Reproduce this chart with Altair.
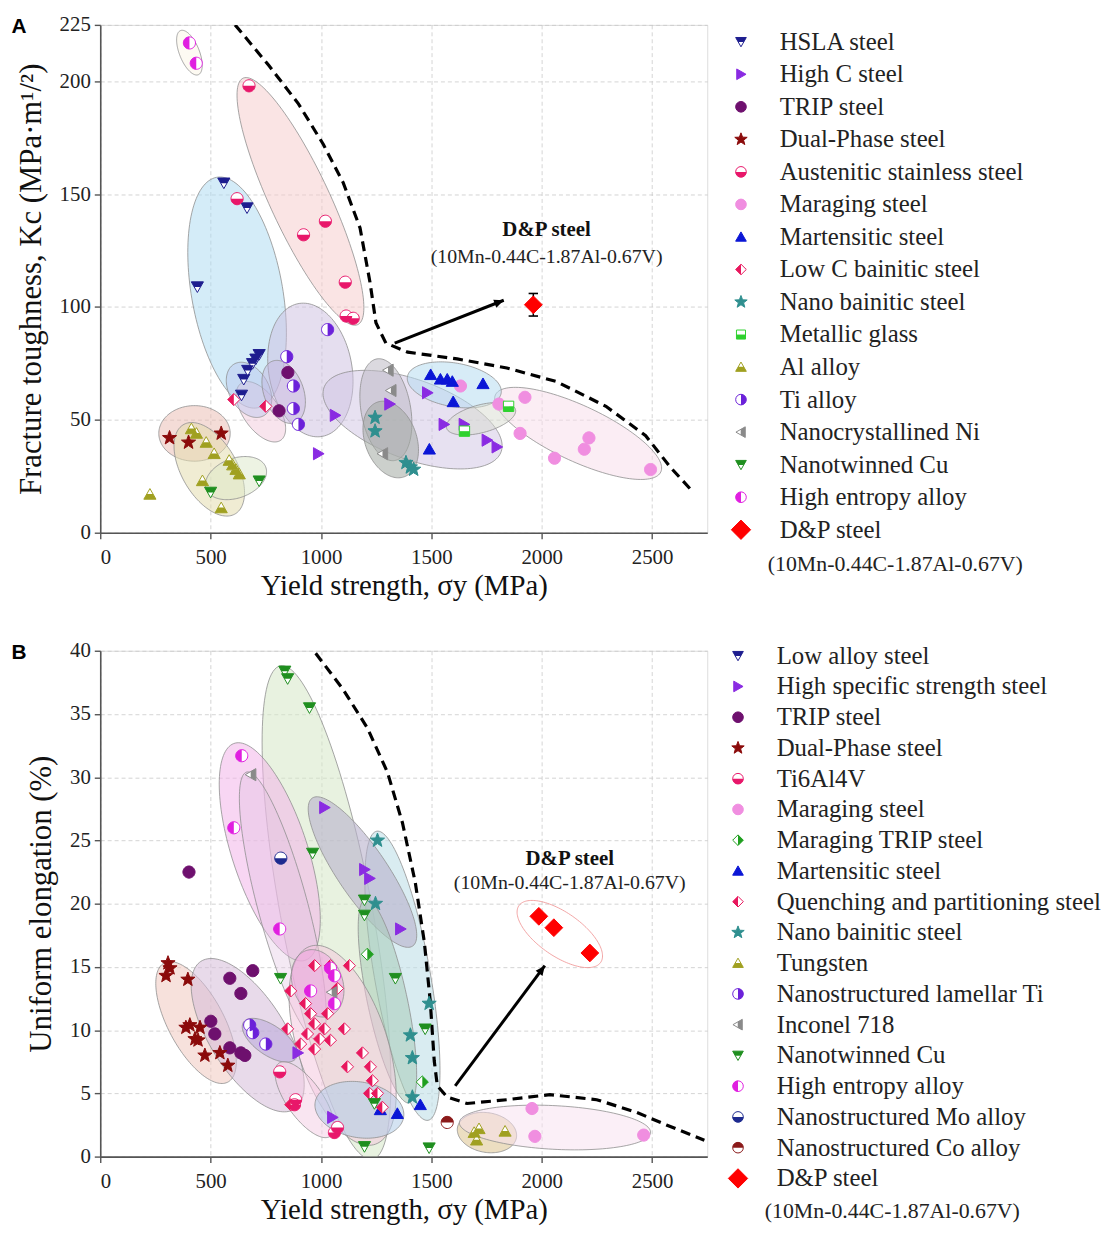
import math
import pandas as pd
import altair as alt

SERIF = "Liberation Serif"
SANS = "Liberation Sans"

# ---------------------------------------------------------------- data: panel A
A_series = ["HSLA steel", "High C steel", "TRIP steel", "Dual-Phase steel",
            "Austenitic stainless steel", "Maraging steel", "Martensitic steel",
            "Low C bainitic steel", "Nano bainitic steel", "Metallic glass",
            "Al alloy", "Ti alloy", "Nanocrystallined Ni", "Nanotwinned Cu",
            "High entropy alloy", "D&P steel"]
A_x = {
    "HSLA steel": [440, 560, 665, 640, 650, 668, 690, 705, 720],
    "High C steel": [988, 1064, 1311, 1482, 1557, 1648, 1752, 1797],
    "TRIP steel": [850, 810],
    "Dual-Phase steel": [314, 400, 548],
    "Austenitic stainless steel": [674, 620, 921, 1020, 1110, 1114, 1146],
    "Maraging steel": [1632, 1806, 1924, 1902, 2058, 2193, 2214, 2493],
    "Martensitic steel": [1497, 1541, 1572, 1595, 1734, 1599, 1491],
    "Low C bainitic steel": [605, 750],
    "Nano bainitic steel": [1245, 1245, 1385, 1405, 1420],
    "Metallic glass": [1850, 1650],
    "Al alloy": [225, 413, 436, 480, 516, 584, 600, 615, 630, 463, 548],
    "Ti alloy": [1030, 845, 875, 875, 898],
    "Nanocrystallined Ni": [1305, 1318, 1280],
    "Nanotwinned Cu": [500, 720],
    "High entropy alloy": [404, 435],
    "D&P steel": [1962],
}
A_y = {
    "HSLA steel": [109, 155, 144, 61, 68, 72, 75, 77, 79],
    "High C steel": [35, 52, 57, 62, 48, 48, 41, 38],
    "TRIP steel": [71, 54],
    "Dual-Phase steel": [42, 40, 44],
    "Austenitic stainless steel": [198, 148, 132, 138, 111, 96, 95],
    "Maraging steel": [65, 57, 60, 44, 33, 37, 42, 28],
    "Martensitic steel": [70, 68, 68, 67, 66, 58, 37],
    "Low C bainitic steel": [59, 56],
    "Nano bainitic steel": [51, 45, 31, 29, 28],
    "Metallic glass": [56, 45],
    "Al alloy": [17, 46, 44, 40, 35, 32, 30, 28, 26, 23, 11],
    "Ti alloy": [90, 78, 65, 55, 48],
    "Nanocrystallined Ni": [72, 63, 35],
    "Nanotwinned Cu": [18, 23],
    "High entropy alloy": [217, 208],
    "D&P steel": [101],
}
A_err = [5]
A_bound_x = [611, 764, 898, 1011, 1101, 1177, 1222, 1249, 1294, 1393, 1617, 1842, 2066, 2291, 2471, 2583, 2686]
A_bound_y = [225, 207, 190, 172, 155, 135, 111, 93, 84, 80, 77, 73, 67, 56, 43, 29, 18]
A_arrow_x = [1334, 1828]
A_arrow_y = [84, 103]
A_note_x = [2022, 2022]
A_note_y = [134, 122]

# ---------------------------------------------------------------- data: panel B
B_series = ["Low alloy steel", "High specific strength steel", "TRIP steel",
            "Dual-Phase steel", "Ti6Al4V", "Maraging steel", "Maraging TRIP steel",
            "Martensitic steel", "Quenching and partitioning steel",
            "Nano bainitic steel", "Tungsten", "Nanostructured lamellar Ti",
            "Inconel 718", "Nanotwinned Cu", "High entropy alloy",
            "Nanostructured Mo alloy", "Nanostructured Co alloy", "D&P steel"]
B_x = {
    "Low alloy steel": [],
    "High specific strength steel": [1016, 1197, 1220, 1360, 895, 1052],
    "TRIP steel": [402, 587, 691, 637, 501, 519, 587, 637, 655],
    "Dual-Phase steel": [307, 316, 298, 397, 388, 406, 452, 429, 443, 474, 542, 578],
    "Ti6Al4V": [813, 885, 880, 1061, 1075],
    "Maraging steel": [1956, 1969, 2462],
    "Maraging TRIP steel": [1210, 1459],
    "Martensitic steel": [1269, 1346, 1450],
    "Quenching and partitioning steel": [863, 971, 1043, 1129, 1075, 930, 953, 1030, 971, 1016,
                                         1106, 939, 994, 1043, 908, 971, 849, 1188, 1120, 1224,
                                         1233, 1220, 1256, 1278, 863],
    "Nano bainitic steel": [1256, 1247, 1490, 1405, 1414, 1414],
    "Tungsten": [1694, 1705, 1716, 1834],
    "Nanostructured lamellar Ti": [677, 691, 750],
    "Inconel 718": [683, 1050],
    "Nanotwinned Cu": [836, 849, 948, 962, 1197, 1197, 817, 1337, 1472, 1490, 1197, 1242],
    "High entropy alloy": [641, 605, 813, 953, 1043, 1061, 1061],
    "Nanostructured Mo alloy": [818],
    "Nanostructured Co alloy": [1572],
    "D&P steel": [1987, 2055, 2218],
}
B_y = {
    "Low alloy steel": [],
    "High specific strength steel": [27.6, 22.7, 22.0, 18.0, 8.2, 3.1],
    "TRIP steel": [22.5, 14.1, 14.7, 12.9, 10.7, 9.7, 8.6, 8.2, 8.0],
    "Dual-Phase steel": [15.3, 14.9, 14.3, 14.0, 10.2, 10.4, 10.2, 9.3, 9.2, 8.0, 8.2, 7.2],
    "Ti6Al4V": [6.7, 4.5, 4.1, 1.9, 2.3],
    "Maraging steel": [3.8, 1.6, 1.7],
    "Maraging TRIP steel": [16.0, 5.9],
    "Martensitic steel": [3.7, 3.4, 4.1],
    "Quenching and partitioning steel": [13.1, 15.1, 15.1, 15.1, 13.3, 12.1, 11.3, 11.3, 10.5, 10.1,
                                         10.1, 9.7, 9.3, 9.2, 8.9, 8.5, 10.1, 8.2, 7.1, 7.1,
                                         6.0, 5.0, 5.0, 3.9, 4.1],
    "Nano bainitic steel": [25.0, 20.0, 12.1, 9.6, 7.8, 4.7],
    "Tungsten": [1.9, 1.3, 2.2, 2.0],
    "Nanostructured lamellar Ti": [10.4, 9.8, 8.9],
    "Inconel 718": [30.2, 13.0],
    "Nanotwinned Cu": [38.4, 37.8, 35.5, 24.0, 20.3, 19.1, 14.1, 14.1, 10.1, 0.7, 0.8, 4.2],
    "High entropy alloy": [31.7, 26.0, 18.0, 13.1, 14.9, 14.3, 12.1],
    "Nanostructured Mo alloy": [23.6],
    "Nanostructured Co alloy": [2.7],
    "D&P steel": [19.0, 18.1, 16.1],
}
B_bound_x = [976, 1098, 1210, 1301, 1369, 1427, 1468, 1495, 1513, 1527, 1572, 1662, 1843, 2037, 2249, 2430, 2565, 2737]
B_bound_y = [39.8, 37.0, 33.9, 30.4, 26.4, 21.7, 17.0, 12.3, 7.6, 5.6, 4.7, 4.2, 4.5, 4.9, 4.5, 3.5, 2.5, 1.3]
B_arrow_x = [1608, 2014]
B_arrow_y = [5.6, 15.1]
B_note_x = [2127, 2127]
B_note_y = [23.5, 21.6]

NOTE_TITLE = "D&P steel"
NOTE_SUB = "(10Mn-0.44C-1.87Al-0.67V)"

# ---------------------------------------------------------------- marker glyphs
def star_path():
    p = []
    for k in range(10):
        r = 1.0 if k % 2 == 0 else 0.42
        a = -math.pi / 2 + k * math.pi / 5
        p.append(f"{r*math.cos(a):.3f},{r*math.sin(a):.3f}")
    return "M" + "L".join(p) + "Z"

CIRCLE = "M-1,0A1,1 0 1,0 1,0A1,1 0 1,0 -1,0Z"
GLYPHS = {
    "circle": (CIRCLE, ""),
    "circle_top": (CIRCLE, "M-1,0A1,1 0 0,1 1,0Z"),
    "circle_bottom": (CIRCLE, "M-1,0A1,1 0 0,0 1,0Z"),
    "circle_left": (CIRCLE, "M0,-1A1,1 0 0,0 0,1Z"),
    "circle_right": (CIRCLE, "M0,-1A1,1 0 0,1 0,1Z"),
    "tri_down_top": ("M-1,-0.8L1,-0.8L0,0.95Z", "M-1,-0.8L1,-0.8L0.51,0.05L-0.51,0.05Z"),
    "tri_up": ("M-1,0.8L1,0.8L0,-0.95Z", ""),
    "tri_up_bottom": ("M-1,0.8L1,0.8L0,-0.95Z", "M-1,0.8L1,0.8L0.51,-0.05L-0.51,-0.05Z"),
    "tri_right": ("M-0.8,-1L-0.8,1L0.95,0Z", ""),
    "tri_left_half": ("M0.8,-1L0.8,1L-0.95,0Z", "M0.8,-1L0.8,1L-0.05,0.51L-0.05,-0.51Z"),
    "diamond": ("M0,-1L1,0L0,1L-1,0Z", ""),
    "diamond_left": ("M0,-1L1,0L0,1L-1,0Z", "M0,-1L-1,0L0,1Z"),
    "diamond_right": ("M0,-1L1,0L0,1L-1,0Z", "M0,-1L1,0L0,1Z"),
    "square_bottom": ("M-0.85,-0.85L0.85,-0.85L0.85,0.85L-0.85,0.85Z", "M-0.85,0L0.85,0L0.85,0.85L-0.85,0.85Z"),
    "star": (star_path(), ""),
}

A_style = {
    "HSLA steel": ("tri_down_top", "#1d1d8f"),
    "High C steel": ("tri_right", "#8a2be2"),
    "TRIP steel": ("circle", "#6e106e"),
    "Dual-Phase steel": ("star", "#8b0a0a"),
    "Austenitic stainless steel": ("circle_bottom", "#e8176a"),
    "Maraging steel": ("circle", "#f08ee0"),
    "Martensitic steel": ("tri_up", "#0b16d6"),
    "Low C bainitic steel": ("diamond_left", "#e8175d"),
    "Nano bainitic steel": ("star", "#2f8f8f"),
    "Metallic glass": ("square_bottom", "#2fd12f"),
    "Al alloy": ("tri_up_bottom", "#a0a020"),
    "Ti alloy": ("circle_right", "#6b21d9"),
    "Nanocrystallined Ni": ("tri_left_half", "#8a8a8a"),
    "Nanotwinned Cu": ("tri_down_top", "#1f8f1f"),
    "High entropy alloy": ("circle_left", "#e01fe0"),
    "D&P steel": ("diamond", "#ff0000"),
}
B_style = {
    "Low alloy steel": ("tri_down_top", "#1d1d8f"),
    "High specific strength steel": ("tri_right", "#8a2be2"),
    "TRIP steel": ("circle", "#6e106e"),
    "Dual-Phase steel": ("star", "#8b0a0a"),
    "Ti6Al4V": ("circle_bottom", "#e8176a"),
    "Maraging steel": ("circle", "#f08ee0"),
    "Maraging TRIP steel": ("diamond_right", "#1f9f1f"),
    "Martensitic steel": ("tri_up", "#0b16d6"),
    "Quenching and partitioning steel": ("diamond_left", "#e8175d"),
    "Nano bainitic steel": ("star", "#2f8f8f"),
    "Tungsten": ("tri_up_bottom", "#a0a020"),
    "Nanostructured lamellar Ti": ("circle_right", "#6b21d9"),
    "Inconel 718": ("tri_left_half", "#8a8a8a"),
    "Nanotwinned Cu": ("tri_down_top", "#1f8f1f"),
    "High entropy alloy": ("circle_left", "#e01fe0"),
    "Nanostructured Mo alloy": ("circle_bottom", "#1d2a8f"),
    "Nanostructured Co alloy": ("circle_top", "#8b1a1a"),
    "D&P steel": ("diamond", "#ff0000"),
}

# ---------------------------------------------------------------- shaded regions (cx, cy in data; a, b px; angle deg)
A_regions = [
    (907, 146.8, 137, 30, -65, "#f6c9c9", 0.5),
    (620, 106.4, 118, 46, -80, "#a9daf2", 0.5),
    (952, 72.1, 68, 42, -80, "#cbbde0", 0.5),
    (1415, 50.1, 95, 40, -20, "#d0c4e4", 0.5),
    (2165, 44.0, 92, 28, -25, "#f8dcea", 0.5),
    (404, 212.7, 24, 10, -68, "#fbf6ea", 0.6),
    (728, 53.6, 35, 18, -55, "#f0c3d6", 0.45),
    (674, 63.3, 30, 20, -60, "#b9c6ee", 0.45),
    (831, 62.4, 33, 20, -70, "#c4b4de", 0.45),
    (427, 44.0, 36, 28, 0, "#e9b9b0", 0.5),
    (494, 28.1, 52, 28, -60, "#e4dcae", 0.55),
    (615, 24.2, 32, 20, 20, "#dce8c8", 0.5),
    (1294, 54.5, 52, 25, -80, "#bdb9c4", 0.55),
    (1316, 41.3, 40, 26, -70, "#a2aaa2", 0.55),
    (1604, 65.5, 48, 22, -10, "#b6dcf0", 0.55),
    (1725, 50.5, 36, 14, 15, "#d8dcd0", 0.5),
]
B_regions = [
    (1025, 19.3, 253, 46, -79.5, "#d6e8c6", 0.55),
    (768, 24.1, 115, 38, -72, "#f2b4ea", 0.55),
    (827, 19.8, 140, 25, -75, "#e0c0e0", 0.35),
    (1369, 14.3, 148, 28, -80, "#bfe0e8", 0.6),
    (1188, 22.5, 90, 25, -56, "#b8b0cc", 0.6),
    (1301, 12.3, 105, 20, -78, "#a8ccb8", 0.55),
    (434, 10.6, 68, 28, -62, "#f0c8c0", 0.55),
    (668, 9.6, 88, 38, -58, "#d6bcd8", 0.55),
    (1098, 8.8, 105, 45, -72, "#f4c4dc", 0.5),
    (985, 13.7, 35, 25, -70, "#ee9ee0", 0.45),
    (768, 9.2, 32, 15, -35, "#b8a8d8", 0.55),
    (926, 4.5, 45, 18, -55, "#f4cce4", 0.5),
    (1174, 3.7, 45, 28, -10, "#b0cce8", 0.55),
    (2082, 17.6, 50, 22, -35, "#ffffff", 0.0),
    (1752, 1.9, 30, 20, -10, "#e0c898", 0.6),
    (2060, 2.3, 96, 22, -3, "#f8e0f0", 0.5),
]


def region_df(regions, kx, ky, n=70):
    rows = []
    for eid, (cx, cy, a, b, ang, fill, op) in enumerate(regions):
        t = math.radians(ang)
        c, s = math.cos(t), math.sin(t)
        A = c * c / a ** 2 + s * s / b ** 2
        B = 2 * s * c * (1 / a ** 2 - 1 / b ** 2)
        C = s * s / a ** 2 + c * c / b ** 2
        smax = math.sqrt(a * a * c * c + b * b * s * s)
        for k in range(n):
            sx = -smax * math.cos(math.pi * k / (n - 1))
            disc = max(B * B * sx * sx - 4 * C * (A * sx * sx - 1), 0.0)
            r = math.sqrt(disc)
            lo = (-B * sx - r) / (2 * C)
            hi = (-B * sx + r) / (2 * C)
            stroke = "#ef8f8f" if op == 0.0 else "#8f8f8f"
            rows.append(dict(eid=eid, x=cx + sx / kx, ylo=cy + lo / ky, yhi=cy + hi / ky,
                             fill=fill, stroke=stroke, op=op))
    return pd.DataFrame(rows)


def point_df(series, xs, ys, style, size, big):
    rows = []
    for name in series:
        key, col = style[name]
        outline, half = GLYPHS[key]
        sz = big if name == "D&P steel" else (size * 1.5 if key == "star" else size)
        for x, y in zip(xs[name], ys[name]):
            rows.append(dict(series=name, x=x, y=y, outline=outline, half=half, color=col,
                             bg=col if half == "" else "white", size=sz))
    return pd.DataFrame(rows)


def legend_df(series, style, size, big):
    rows = []
    for i, name in enumerate(series):
        key, col = style[name]
        outline, half = GLYPHS[key]
        sz = big if name == "D&P steel" else (size * 1.5 if key == "star" else size)
        rows.append(dict(i=i, label=name, outline=outline, half=half, color=col,
                         bg=col if half == "" else "white", size=sz))
    return pd.DataFrame(rows)


AXIS_COMMON = dict(grid=True, gridColor="#c9c9c9", gridDash=[4, 3], gridWidth=0.8, format="d",
                   labelFont=SERIF, labelFontSize=21, labelColor="#222",
                   titleFont=SERIF, titleFontWeight="normal", titleColor="#111",
                   domainColor="#555", domainWidth=1.6, tickColor="#555", tickSize=6, tickWidth=1.4)


def panel(letter, pts, regs, bx, by, ax, ay, nx, ny, ydom, yvals, ytitle, H, arrow_angle, err=None):
    xs = alt.Scale(domain=[0, 2750], nice=False, zero=False)
    ys = alt.Scale(domain=ydom, nice=False, zero=False)
    xa = alt.Axis(values=[0, 500, 1000, 1500, 2000, 2500], labelPadding=8, titlePadding=4,
                  titleFontSize=29, **AXIS_COMMON)
    ya = alt.Axis(values=yvals, labelPadding=4, titlePadding=12, titleFontSize=31, **AXIS_COMMON)
    xt = "Yield strength, σy  (MPa)"

    def X(f):
        return alt.X(f"{f}:Q", scale=xs, axis=xa, title=xt)

    def Y(f):
        return alt.Y(f"{f}:Q", scale=ys, axis=ya, title=ytitle, stack=None)

    layers = []
    layers.append(alt.Chart(regs).mark_area(clip=True, strokeWidth=0.8).encode(
        x=X("x"), y=Y("ylo"), y2="yhi:Q", detail="eid:N",
        fill=alt.Fill("fill:N", scale=None), stroke=alt.Stroke("stroke:N", scale=None),
        fillOpacity=alt.FillOpacity("op:Q", scale=None)))
    bdf = pd.DataFrame({"x": bx, "y": by, "o": list(range(len(bx)))})
    layers.append(alt.Chart(bdf).mark_line(clip=True, color="black", strokeWidth=3.2, strokeDash=[10, 6]).encode(
        x=X("x"), y=Y("y"), order="o:Q"))
    adf = pd.DataFrame({"x": ax, "y": ay, "o": [0, 1]})
    layers.append(alt.Chart(adf).mark_line(color="black", strokeWidth=3).encode(x=X("x"), y=Y("y"), order="o:Q"))
    layers.append(alt.Chart(adf.iloc[[1]]).mark_point(filled=True, color="black", opacity=1, size=130,
                                                     shape="M0,0L0.75,1.7L-0.75,1.7Z", angle=arrow_angle).encode(
        x=X("x"), y=Y("y")))
    if err is not None:
        dp = pts[pts.series == "D&P steel"].copy()
        dp["lo"] = dp["y"] - err[0]
        dp["hi"] = dp["y"] + err[0]
        layers.append(alt.Chart(dp).mark_rule(color="black", strokeWidth=1.5).encode(
            x=X("x"), y=Y("lo"), y2="hi:Q"))
        for f in ["lo", "hi"]:
            layers.append(alt.Chart(dp).mark_point(shape="stroke", color="black", size=90, strokeWidth=1.6,
                                                   opacity=1).encode(x=X("x"), y=Y(f)))
    layers.append(alt.Chart(pts).mark_point(filled=True, strokeWidth=1, opacity=1, clip=True).encode(
        x=X("x"), y=Y("y"),
        shape=alt.Shape("outline:N", scale=None), fill=alt.Fill("bg:N", scale=None),
        stroke=alt.Stroke("color:N", scale=None), size=alt.Size("size:Q", scale=None)))
    layers.append(alt.Chart(pts).transform_filter("datum.half != ''").mark_point(
        filled=True, strokeWidth=0, opacity=1, clip=True).encode(
        x=X("x"), y=Y("y"), shape=alt.Shape("half:N", scale=None), fill=alt.Fill("color:N", scale=None),
        size=alt.Size("size:Q", scale=None)))
    ndf = pd.DataFrame({"x": nx, "y": ny, "t": [NOTE_TITLE, NOTE_SUB]})
    layers.append(alt.Chart(ndf.iloc[[0]]).mark_text(font=SERIF, fontSize=21, fontWeight="bold", color="#111").encode(
        x=X("x"), y=Y("y"), text="t:N"))
    layers.append(alt.Chart(ndf.iloc[[1]]).mark_text(font=SERIF, fontSize=20, color="#222").encode(
        x=X("x"), y=Y("y"), text="t:N"))
    layers.append(alt.Chart(pd.DataFrame({"t": [letter]})).mark_text(
        font=SANS, fontSize=21, fontWeight="bold", color="black", align="center", baseline="middle").encode(
        x=alt.value(-82), y=alt.value(2), text="t:N"))
    return alt.layer(*layers).properties(width=612, height=H)


def legend_panel(ldf, y0, dy, H, mx, tx, fx):
    ysc = alt.Scale(domain=[-y0 / dy, (H - y0) / dy], reverse=True, nice=False, zero=False)
    Yl = alt.Y("i:Q", scale=ysc, axis=None)
    n = len(ldf)
    base = alt.Chart(ldf)
    l1 = base.mark_point(filled=True, strokeWidth=1, opacity=1).encode(
        x=alt.value(mx), y=Yl, shape=alt.Shape("outline:N", scale=None),
        fill=alt.Fill("bg:N", scale=None), stroke=alt.Stroke("color:N", scale=None),
        size=alt.Size("size:Q", scale=None))
    l2 = base.transform_filter("datum.half != ''").mark_point(filled=True, strokeWidth=0, opacity=1).encode(
        x=alt.value(mx), y=Yl, shape=alt.Shape("half:N", scale=None),
        fill=alt.Fill("color:N", scale=None), size=alt.Size("size:Q", scale=None))
    l3 = base.mark_text(font=SERIF, fontSize=25, align="left", baseline="middle", color="#222").encode(
        x=alt.value(tx), y=Yl, text="label:N")
    fdf = pd.DataFrame({"i": [n - 1 + 1.05], "t": [NOTE_SUB]})
    l4 = alt.Chart(fdf).mark_text(font=SERIF, fontSize=22, align="left", baseline="middle", color="#222").encode(
        x=alt.value(fx), y=Yl, text="t:N")
    return alt.layer(l1, l2, l3, l4).properties(width=360, height=H, view=alt.ViewBackground(strokeOpacity=0))


ptsA = point_df(A_series, A_x, A_y, A_style, 150, 320)
ptsB = point_df(B_series, B_x, B_y, B_style, 150, 320)
regA = region_df(A_regions, 0.2226, 2.275)
regB = region_df(B_regions, 0.2214, 12.75)

pA = panel("A", ptsA, regA, A_bound_x, A_bound_y, A_arrow_x, A_arrow_y, A_note_x, A_note_y,
           [0, 225], [0, 50, 100, 150, 200, 225], "Fracture toughness, Kc (MPa·m¹/²)", 512, 68.7, err=A_err)
pB = panel("B", ptsB, regB, B_bound_x, B_bound_y, B_arrow_x, B_arrow_y, B_note_x, B_note_y,
           [0, 40], [0, 5, 10, 15, 20, 25, 30, 35, 40], "Uniform elongation (%)", 510, 36.6)

lA = legend_panel(legend_df(A_series, A_style, 115, 380), 17, 32.8, 560, 23, 62, 50)
lB = legend_panel(legend_df(B_series, B_style, 115, 380), 5, 31.0, 575, 20, 59, 47)

chart = alt.vconcat(
    alt.hconcat(pA, lA, spacing=10),
    alt.hconcat(pB, lB, spacing=10),
    spacing=38,
).properties(padding={"left": 2, "top": 0, "right": 2, "bottom": 2}).configure_view(
    stroke="#555", strokeWidth=1.6).configure(background="white")

chart.save("out.html", embed_options={"renderer": "svg", "actions": False})
